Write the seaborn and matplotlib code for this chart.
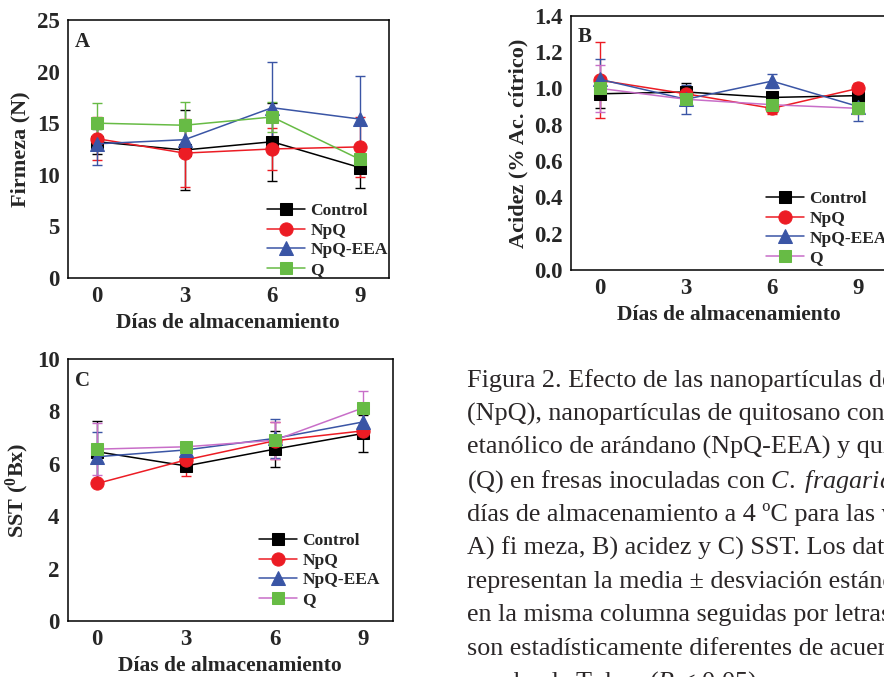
import numpy as np
import pandas as pd
import matplotlib
matplotlib.use("Agg")
import matplotlib.pyplot as plt
import seaborn as sns

# --- data ---
dias = [0, 3, 6, 9]
grupos = ["Control", "NpQ", "NpQ-EEA", "Q"]

# A) firmeza (N)
firm_control = [13.2, 12.4, 13.2, 10.7]
firm_control_err = [1.2, 3.9, 3.8, 2.0]
firm_npq = [13.5, 12.1, 12.5, 12.7]
firm_npq_err = [2.1, 3.3, 2.0, 2.9]
firm_eea = [13.0, 13.4, 16.5, 15.4]
firm_eea_err = [2.1, 1.6, 4.4, 4.2]
firm_q = [15.0, 14.8, 15.6, 11.5]
firm_q_err = [2.0, 2.3, 1.5, 1.0]

# B) acidez (% ac. citrico)
acid_control = [0.97, 0.98, 0.95, 0.96]
acid_control_err = [0.08, 0.05, 0.03, 0.06]
acid_npq = [1.045, 0.97, 0.89, 1.00]
acid_npq_err = [0.21, 0.03, 0.03, 0.03]
acid_eea = [1.05, 0.94, 1.04, 0.90]
acid_eea_err = [0.11, 0.08, 0.04, 0.08]
acid_q = [1.00, 0.94, 0.91, 0.89]
acid_q_err = [0.13, 0.02, 0.02, 0.03]

# C) SST (oBx)
sst_control = [6.46, 5.92, 6.56, 7.16]
sst_control_err = [1.17, 0.2, 0.7, 0.7]
sst_npq = [5.25, 6.15, 6.88, 7.26]
sst_npq_err = [0.1, 0.6, 0.7, 0.2]
sst_eea = [6.27, 6.53, 6.97, 7.60]
sst_eea_err = [0.95, 0.2, 0.75, 0.5]
sst_q = [6.56, 6.65, 6.90, 8.14]
sst_q_err = [1.0, 0.15, 0.7, 0.65]

caption = [
    "Figura 2. Efecto de las nanopartículas de quitosano",
    "(NpQ), nanopartículas de quitosano con extracto",
    "etanólico de arándano (NpQ-EEA) y quitosano",
    r"(Q) en fresas inoculadas con $\mathit{C.\ fragariae}$ durante",
    "días de almacenamiento a 4 ºC para las variables:",
    "A) fi meza, B) acidez y C) SST. Los datos",
    "representan la media ± desviación estándar. Medias",
    "en la misma columna seguidas por letras distintas",
    "son estadísticamente diferentes de acuerdo con la",
    r"prueba de Tukey ($\mathit{P}$ < 0.05).",
]

# --- style ---
sns.set_style("white")
plt.rcParams["font.family"] = ["Liberation Serif", "DejaVu Serif"]
plt.rcParams["font.weight"] = "bold"
plt.rcParams["axes.labelweight"] = "bold"
plt.rcParams["mathtext.fontset"] = "custom"
plt.rcParams["mathtext.rm"] = "Liberation Serif:weight=normal"
plt.rcParams["mathtext.it"] = "Liberation Serif:style=italic:weight=normal"
plt.rcParams["mathtext.bf"] = "Liberation Serif:weight=bold"

colores = {"Control": "black", "NpQ": "#ec1c24", "NpQ-EEA": "#3a55a5", "Q": "#67bb45"}
marcadores = {"Control": "s", "NpQ": "o", "NpQ-EEA": "^", "Q": "s"}
tam = {"Control": 8, "NpQ": 9.5, "NpQ-EEA": 9.5, "Q": 8}


def panel(ax, valores, errores, ylim, yticks, yminor, ylabel, letra, q_line, leg_xy):
    df = pd.DataFrame({
        "dia": np.tile(dias, len(grupos)),
        "grupo": np.repeat(grupos, len(dias)),
        "valor": np.concatenate(valores),
        "err": np.concatenate(errores),
    })
    for g in grupos:
        sub = df[df["grupo"] == g]
        lc = q_line if g == "Q" else colores[g]
        ax.errorbar(sub["dia"], sub["valor"], yerr=sub["err"], fmt="none",
                    ecolor=lc, elinewidth=1.0, capsize=3.5, capthick=1.0, zorder=2)
        sns.lineplot(x=sub["dia"].values, y=sub["valor"].values, ax=ax, color=lc,
                     linewidth=1.1, marker=marcadores[g], markersize=tam[g],
                     markerfacecolor=colores[g], markeredgecolor=colores[g],
                     label=g, zorder=3)
    ax.set_xlim(-1, 10)
    ax.set_ylim(*ylim)
    ax.set_xticks(dias)
    ax.set_xticks([1.5, 4.5, 7.5], minor=True)
    ax.set_yticks(yticks)
    ax.set_yticks(yminor, minor=True)
    ax.tick_params(axis="both", which="major", direction="in", length=5, width=1,
                   labelsize=16.5, pad=6)
    ax.tick_params(axis="both", which="minor", direction="in", length=3, width=1)
    for lab in ax.get_xticklabels() + ax.get_yticklabels():
        lab.set_fontweight("bold")
    for s in ax.spines.values():
        s.set_linewidth(1.1)
        s.set_color("black")
    ax.set_xlabel("Días de almacenamiento", fontsize=15.5, fontweight="bold", labelpad=4)
    ax.set_ylabel(ylabel, fontsize=16, fontweight="bold", labelpad=4)
    ax.text(0.022, 0.955, letra, transform=ax.transAxes, fontsize=15,
            fontweight="bold", va="top", ha="left")
    ax.legend(loc="lower left", bbox_to_anchor=leg_xy, frameon=False,
              prop={"family": "Liberation Serif", "weight": "bold", "size": 12.5},
              handlelength=2.2, handletextpad=0.3, labelspacing=0.2, borderpad=0,
              borderaxespad=0)


fig = plt.figure(figsize=(8.84, 6.77), dpi=100)
ax_a = fig.add_axes([0.0766, 0.5894, 0.3634, 0.3811])
ax_b = fig.add_axes([0.6459, 0.6012, 0.3575, 0.3756])
ax_c = fig.add_axes([0.0766, 0.0827, 0.3680, 0.3870])

panel(ax_a, [firm_control, firm_npq, firm_eea, firm_q],
      [firm_control_err, firm_npq_err, firm_eea_err, firm_q_err],
      (0, 25), [0, 5, 10, 15, 20, 25], np.arange(2.5, 25, 5), "Firmeza (N)", "A",
      colores["Q"], (0.62, 0.0))
panel(ax_b, [acid_control, acid_npq, acid_eea, acid_q],
      [acid_control_err, acid_npq_err, acid_eea_err, acid_q_err],
      (0, 1.4), np.round(np.arange(0, 1.41, 0.2), 1), np.arange(0.1, 1.4, 0.2),
      "Acidez (% Ac. cítrico)", "B", "#c86ec8", (0.617, 0.015))
ax_b.set_yticklabels([f"{v:.1f}" for v in np.arange(0, 1.41, 0.2)], fontweight="bold")
panel(ax_c, [sst_control, sst_npq, sst_eea, sst_q],
      [sst_control_err, sst_npq_err, sst_eea_err, sst_q_err],
      (0, 10), [0, 2, 4, 6, 8, 10], [1, 3, 5, 7, 9], r"SST ($^{\mathbf{0}}$Bx)", "C",
      "#c86ec8", (0.588, 0.05))

# caption (cut by the figure edge, as in the page crop)
for i, linea in enumerate(caption):
    fig.text(467 / 884, 1 - (386.7 + 33.5 * i) / 677, linea, fontsize=18.8,
             fontweight="normal", family="Liberation Serif", color="#2b2728",
             ha="left", va="baseline")

fig.savefig("out.png", dpi=100)
